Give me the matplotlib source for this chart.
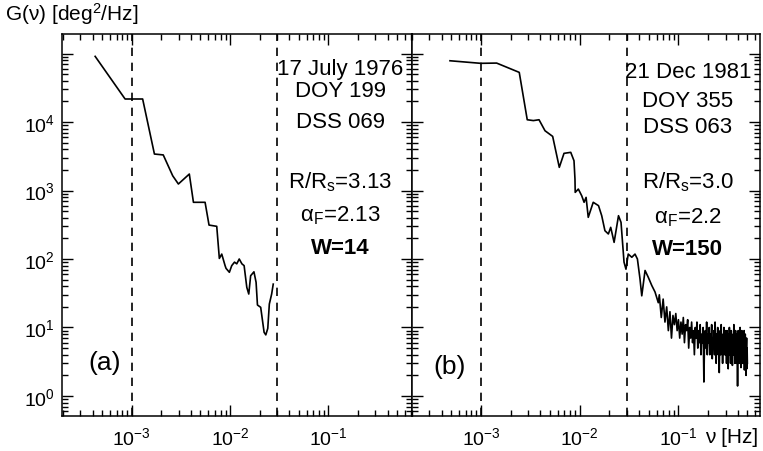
import numpy as np
import matplotlib
matplotlib.use("Agg")
import matplotlib.pyplot as plt
from matplotlib.ticker import LogLocator, NullFormatter, LogFormatterMathtext

plt.rcParams['font.family'] = ['Liberation Sans', 'DejaVu Sans']
plt.rcParams['mathtext.fontset'] = 'custom'
plt.rcParams['mathtext.rm'] = 'Liberation Sans'
plt.rcParams['mathtext.it'] = 'Liberation Sans'
plt.rcParams['mathtext.bf'] = 'Liberation Sans:bold'

# panel (a) 17 July 1976
nu_a = [4.24e-4, 8.55e-4, 1.29e-3, 1.70e-3, 2.09e-3, 2.61e-3, 2.98e-3, 3.85e-3,
        4.24e-3, 5.57e-3, 6.11e-3, 7.32e-3, 7.78e-3, 8.23e-3, 8.90e-3, 9.10e-3,
        9.84e-3, 1.04e-2, 1.11e-2, 1.17e-2, 1.24e-2, 1.32e-2, 1.39e-2, 1.48e-2,
        1.55e-2, 1.62e-2, 1.75e-2, 1.84e-2, 1.90e-2, 2.05e-2, 2.22e-2, 2.31e-2,
        2.42e-2, 2.51e-2, 2.65e-2, 2.75e-2]
G_a = [9.1e4, 2.17e4, 2.17e4, 3410, 3310, 1640, 1245, 1740,
       673, 673, 313, 300, 102, 118, 80, 73,
       64, 80, 90, 85, 100, 85, 80, 38.6,
       30.8, 57, 65, 45.7, 21.3, 19.7, 8.5, 7.8,
       9.7, 22, 30.8, 43]

# panel (b) 21 Dec 1981, low-frequency part
nu_b1 = [4.85e-4, 9.93e-4, 1.44e-3, 2.44e-3, 2.94e-3, 3.39e-3, 3.87e-3, 4.45e-3,
         5.32e-3, 6.21e-3, 6.93e-3, 8.11e-3, 8.75e-3, 8.95e-3, 9.0e-3, 9.68e-3,
         1.047e-2, 1.107e-2, 1.16e-2, 1.22e-2, 1.37e-2, 1.55e-2, 1.67e-2, 1.80e-2,
         1.95e-2, 2.06e-2, 2.23e-2, 2.47e-2, 2.62e-2, 2.81e-2, 2.94e-2, 3.10e-2,
         3.37e-2, 3.63e-2, 3.84e-2, 4.08e-2, 4.25e-2, 4.59e-2, 4.95e-2, 5.37e-2,
         5.79e-2, 6.25e-2]
G_b1 = [7.85e4, 7.2e4, 7.26e4, 5.31e4, 1.08e4, 1.05e4, 1.08e4, 7460,
        6170, 2180, 3490, 3610, 2720, 1470, 940, 1050,
        840, 673, 794, 406, 673, 601, 429, 259,
        232, 290, 175, 429, 343, 90, 71, 118,
        106, 118, 100, 51, 29, 68, 54, 41,
        33, 23]

# panel (b) noisy high-frequency tail
nu_b2 = [0.064, 0.067, 0.070, 0.073, 0.076, 0.079, 0.082, 0.085, 0.088, 0.091,
         0.094, 0.097, 0.100, 0.103, 0.106, 0.109, 0.112, 0.115, 0.118, 0.121,
         0.124, 0.127, 0.130, 0.133, 0.136, 0.139, 0.142, 0.145, 0.148, 0.151,
         0.154, 0.157, 0.160, 0.163, 0.166, 0.169, 0.172, 0.175, 0.178, 0.181,
         0.184, 0.187, 0.190, 0.193, 0.196, 0.199, 0.202, 0.205, 0.208, 0.211,
         0.214, 0.217, 0.220, 0.223, 0.226, 0.229, 0.232, 0.235, 0.238, 0.241,
         0.244, 0.247, 0.250, 0.253, 0.256, 0.259, 0.262, 0.265, 0.268, 0.271,
         0.274, 0.277, 0.280, 0.283, 0.286, 0.289, 0.292, 0.295, 0.298, 0.301,
         0.304, 0.307, 0.310, 0.313, 0.316, 0.319, 0.322, 0.325, 0.328, 0.331,
         0.334, 0.337, 0.340, 0.343, 0.346, 0.349, 0.352, 0.355, 0.358, 0.361,
         0.364, 0.367, 0.370, 0.373, 0.376, 0.379, 0.382, 0.385, 0.388, 0.391,
         0.394, 0.397, 0.400, 0.403, 0.406, 0.409, 0.412, 0.415, 0.418, 0.421,
         0.424, 0.427, 0.430, 0.433, 0.436, 0.439, 0.442, 0.445, 0.448, 0.451,
         0.454, 0.457, 0.460, 0.463, 0.466, 0.469, 0.472, 0.475, 0.478, 0.481,
         0.484, 0.487, 0.490, 0.493, 0.496, 0.499]
G_b2 = [30, 14, 26, 12, 20, 9, 17, 7, 15, 11,
        16, 9, 13, 7, 12, 8, 14, 6, 11, 9,
        13, 5, 10, 7, 12, 6, 9, 4, 10, 7,
        12, 5, 9, 6, 11, 4, 8, 6, 10, 1.6,
        7, 9, 5, 12, 4, 8, 6, 10, 4, 8,
        5, 11, 3.5, 7, 5, 9, 4, 12, 6, 3,
        8, 5, 10, 4, 7, 2.2, 6, 9, 4, 11,
        5, 7, 3, 8, 5, 10, 4, 6, 9, 4,
        7, 3, 9, 5, 6, 2.5, 8, 4, 10, 5,
        7, 3, 6, 9, 4, 7, 2.8, 6, 8, 4,
        11, 5, 7, 3, 6, 9, 4, 6, 3, 8,
        5, 1.4, 6, 9, 4, 7, 3, 8, 5, 10,
        4, 6, 2.6, 7, 5, 9, 3, 6, 4, 8,
        3, 7, 5, 9, 2.4, 6, 4, 8, 3, 6,
        2, 5, 7, 2.5, 5, 3]

nu_b = nu_b1 + nu_b2
G_b = G_b1 + G_b2

cut_lo = 1e-3
cut_hi = 0.03

labels_a = ["17 July 1976", "DOY 199", "DSS 069",
            r"$\mathregular{R/R_s}$=3.13", r"$\mathregular{\alpha_F}$=2.13", "W=14"]
labels_b = ["21 Dec 1981", "DOY 355", "DSS 063",
            r"$\mathregular{R/R_s}$=3.0", r"$\mathregular{\alpha_F}$=2.2", "W=150"]

fig = plt.figure(figsize=(7.63, 4.52), dpi=100)
W, H = 763, 452
ax1 = fig.add_axes([62 / W, 1 - 417 / H, 350 / W, 382 / H])
ax2 = fig.add_axes([412 / W, 1 - 417 / H, 348 / W, 382 / H])

for ax, nu, G, xl in [(ax1, nu_a, G_a, (1.95e-4, 0.71)), (ax2, nu_b, G_b, (2.0e-4, 0.67))]:
    ax.plot(nu, G, color='black', lw=1.2)
    ax.axvline(cut_lo, color='black', lw=1.2, ls=(0, (5, 4)))
    ax.axvline(cut_hi, color='black', lw=1.2, ls=(0, (5, 4)))
    ax.set_xscale('log')
    ax.set_yscale('log')
    ax.set_xlim(*xl)
    ax.set_ylim(0.51, 1.93e5)
    ax.xaxis.set_major_locator(LogLocator(base=10, numticks=20))
    ax.xaxis.set_minor_locator(LogLocator(base=10, subs=np.arange(2, 10), numticks=20))
    ax.yaxis.set_major_locator(LogLocator(base=10, numticks=20))
    ax.yaxis.set_minor_locator(LogLocator(base=10, subs=np.arange(2, 10), numticks=20))
    ax.xaxis.set_minor_formatter(NullFormatter())
    ax.yaxis.set_minor_formatter(NullFormatter())
    ax.tick_params(which='both', direction='in', top=True, right=True, width=1.0)
    ax.tick_params(which='major', length=8, labelsize=14)
    ax.tick_params(which='minor', length=4)
    ax.tick_params(axis='x', which='major', pad=7)
    ax.tick_params(axis='y', which='major', pad=5)
    for s in ax.spines.values():
        s.set_linewidth(1.1)

def ylab(v, pos):
    if v > 2e4:
        return ""
    return LogFormatterMathtext()(v, pos)

ax1.yaxis.set_major_formatter(plt.FuncFormatter(ylab))
ax2.yaxis.set_major_formatter(NullFormatter())

def xlab(v, pos):
    if v < 5e-4 or v > 0.5:
        return ""
    return LogFormatterMathtext()(v, pos)

ax1.xaxis.set_major_formatter(plt.FuncFormatter(xlab))
ax2.xaxis.set_major_formatter(plt.FuncFormatter(xlab))

ya = [0.895, 0.838, 0.757, 0.599, 0.511, 0.428]
yb = [0.887, 0.812, 0.743, 0.599, 0.507, 0.424]
for i, t in enumerate(labels_a):
    ax1.text(0.795, ya[i], t, transform=ax1.transAxes, ha='center', va='baseline',
             fontsize=16, fontweight='bold' if i == 5 else 'normal')
for i, t in enumerate(labels_b):
    ax2.text(0.793, yb[i], t, transform=ax2.transAxes, ha='center', va='baseline',
             fontsize=16, fontweight='bold' if i == 5 else 'normal')

ax1.text(0.123, 0.141, "(a)", transform=ax1.transAxes, ha='center', va='center', fontsize=19)
ax2.text(0.109, 0.131, "(b)", transform=ax2.transAxes, ha='center', va='center', fontsize=19)

fig.text(5 / W, 1 - 21 / H, "G(ν) [deg$^2$/Hz]", ha='left', va='baseline', fontsize=15)
fig.text(705 / W, 1 - 443 / H, "ν [Hz]", ha='left', va='baseline', fontsize=15)

fig.savefig("out.png", dpi=100)
